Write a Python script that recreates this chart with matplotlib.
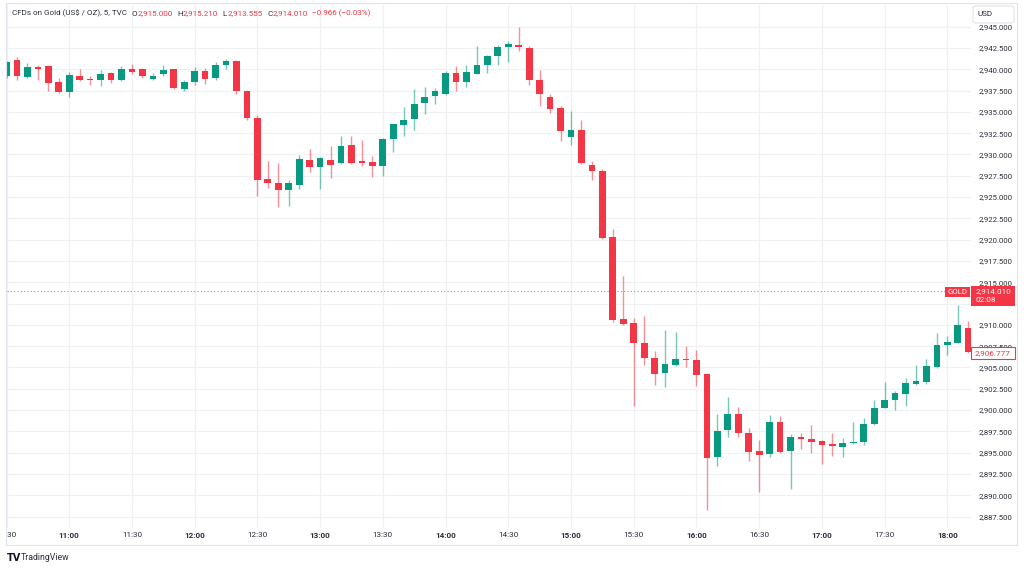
import matplotlib.pyplot as plt
import matplotlib.patches as mpatches
import numpy as np

plt.rcParams['font.family'] = ['Roboto', 'DejaVu Sans']

W, H = 1024, 569

# 5 minute candles, 10:30 -> 18:10
times = ['10:30', '10:35', '10:40', '10:45', '10:50', '10:55',
         '11:00', '11:05', '11:10', '11:15', '11:20', '11:25',
         '11:30', '11:35', '11:40', '11:45', '11:50', '11:55',
         '12:00', '12:05', '12:10', '12:15', '12:20', '12:25',
         '12:30', '12:35', '12:40', '12:45', '12:50', '12:55',
         '13:00', '13:05', '13:10', '13:15', '13:20', '13:25',
         '13:30', '13:35', '13:40', '13:45', '13:50', '13:55',
         '14:00', '14:05', '14:10', '14:15', '14:20', '14:25',
         '14:30', '14:35', '14:40', '14:45', '14:50', '14:55',
         '15:00', '15:05', '15:10', '15:15', '15:20', '15:25',
         '15:30', '15:35', '15:40', '15:45', '15:50', '15:55',
         '16:00', '16:05', '16:10', '16:15', '16:20', '16:25',
         '16:30', '16:35', '16:40', '16:45', '16:50', '16:55',
         '17:00', '17:05', '17:10', '17:15', '17:20', '17:25',
         '17:30', '17:35', '17:40', '17:45', '17:50', '17:55',
         '18:00', '18:05', '18:10']

opens = [2939.2, 2941.1, 2939.1, 2940.25, 2940.35, 2938.5,
         2937.35, 2939.25, 2938.9, 2938.7, 2939.6, 2938.7,
         2940.05, 2940.0, 2938.9, 2939.4, 2940.0, 2937.65,
         2938.5, 2939.75, 2939.0, 2940.45, 2941.0, 2937.5,
         2934.3, 2927.1, 2926.6, 2925.85, 2926.45, 2929.35,
         2928.55, 2929.35, 2928.95, 2931.1, 2929.2, 2929.15,
         2928.65, 2931.8, 2933.5, 2934.2, 2936.0, 2936.85,
         2937.05, 2939.6, 2938.55, 2939.5, 2940.45, 2941.55,
         2942.6, 2942.9, 2942.45, 2938.7, 2936.8, 2935.5,
         2932.0, 2932.9, 2928.8, 2928.1, 2920.35, 2910.65,
         2910.25, 2907.9, 2906.15, 2904.3, 2905.35, 2906.0,
         2905.85, 2904.2, 2894.5, 2897.65, 2899.6, 2897.35,
         2895.15, 2894.8, 2898.55, 2895.15, 2896.9, 2896.65,
         2896.4, 2896.05, 2895.7, 2896.1, 2896.2, 2898.35,
         2900.3, 2901.2, 2901.85, 2903.1, 2903.25, 2905.1,
         2907.6, 2907.9, 2909.65]

highs = [2941.0, 2941.4, 2940.75, 2940.45, 2940.45, 2939.0,
         2939.65, 2940.0, 2939.2, 2939.9, 2939.7, 2940.35,
         2940.65, 2940.1, 2939.6, 2940.45, 2940.05, 2938.8,
         2940.3, 2940.1, 2940.85, 2941.25, 2941.1, 2937.6,
         2934.6, 2929.25, 2928.95, 2927.0, 2929.9, 2930.6,
         2929.65, 2931.0, 2932.15, 2932.15, 2931.7, 2929.85,
         2931.9, 2933.6, 2935.55, 2937.65, 2937.9, 2937.8,
         2939.75, 2940.35, 2940.55, 2942.7, 2941.7, 2942.85,
         2943.3, 2944.95, 2942.7, 2939.95, 2937.15, 2935.7,
         2935.1, 2934.05, 2929.25, 2928.25, 2921.25, 2915.7,
         2910.8, 2911.1, 2906.9, 2909.45, 2909.15, 2907.5,
         2907.0, 2904.3, 2899.6, 2901.5, 2900.4, 2897.85,
         2896.5, 2899.4, 2899.3, 2897.15, 2897.3, 2898.25,
         2896.5, 2897.3, 2896.7, 2898.65, 2899.1, 2901.2,
         2903.35, 2902.3, 2903.8, 2905.35, 2906.05, 2909.0,
         2908.7, 2912.3, 2910.45]

lows = [2939.0, 2938.7, 2939.0, 2938.7, 2937.45, 2937.2,
        2936.8, 2938.6, 2938.2, 2938.0, 2938.4, 2938.6,
        2939.4, 2939.0, 2938.7, 2939.2, 2937.7, 2937.45,
        2938.2, 2938.3, 2938.8, 2940.0, 2937.15, 2934.0,
        2925.15, 2926.1, 2923.85, 2923.9, 2926.0, 2928.0,
        2925.95, 2927.2, 2928.9, 2928.9, 2928.6, 2927.4,
        2927.5, 2930.25, 2932.15, 2932.85, 2934.8, 2935.9,
        2936.95, 2937.45, 2937.9, 2939.45, 2939.6, 2940.55,
        2940.85, 2942.1, 2938.2, 2935.75, 2934.9, 2931.6,
        2931.1, 2928.9, 2927.05, 2920.1, 2910.35, 2910.0,
        2900.5, 2905.25, 2903.0, 2902.75, 2905.2, 2905.1,
        2902.85, 2888.25, 2893.4, 2896.8, 2896.9, 2894.05,
        2890.35, 2894.5, 2894.95, 2890.75, 2895.45, 2894.95,
        2893.65, 2894.65, 2894.55, 2896.0, 2895.9, 2898.3,
        2900.2, 2900.0, 2900.5, 2903.0, 2903.1, 2904.95,
        2906.45, 2907.85, 2906.7]

closes = [2940.9, 2939.2, 2940.3, 2940.05, 2938.4, 2937.35,
          2939.3, 2938.8, 2938.7, 2939.5, 2938.7, 2940.05,
          2939.7, 2939.2, 2939.25, 2939.9, 2937.85, 2938.55,
          2939.75, 2938.9, 2940.55, 2941.0, 2937.45, 2934.25,
          2927.05, 2926.6, 2925.85, 2926.6, 2929.45, 2928.55,
          2929.55, 2928.8, 2930.95, 2929.0, 2929.05, 2928.65,
          2931.8, 2933.55, 2934.1, 2935.95, 2936.75, 2937.45,
          2939.6, 2938.55, 2939.7, 2940.45, 2941.55, 2942.6,
          2942.95, 2942.6, 2938.7, 2937.05, 2935.35, 2932.75,
          2932.85, 2929.0, 2928.1, 2920.15, 2910.6, 2910.15,
          2907.9, 2906.15, 2904.2, 2905.4, 2906.05, 2905.85,
          2904.1, 2894.35, 2897.6, 2899.6, 2897.3, 2895.05,
          2894.75, 2898.55, 2895.05, 2896.8, 2896.6, 2896.25,
          2895.85, 2895.8, 2896.15, 2896.3, 2898.35, 2900.2,
          2901.2, 2901.95, 2903.15, 2903.4, 2905.2, 2907.6,
          2908.0, 2909.95, 2906.78]

time_ticks = ['10:30', '11:00', '11:30', '12:00', '12:30', '13:00', '13:30', '14:00',
              '14:30', '15:00', '15:30', '16:00', '16:30', '17:00', '17:30', '18:00']
price_ticks = [2887.5, 2890.0, 2892.5, 2895.0, 2897.5, 2900.0, 2902.5, 2905.0,
               2907.5, 2910.0, 2912.5, 2915.0, 2917.5, 2920.0, 2922.5, 2925.0,
               2927.5, 2930.0, 2932.5, 2935.0, 2937.5, 2940.0, 2942.5, 2945.0]

gold_price = 2914.010
last_price = 2906.777
header_parts = [('CFDs on Gold (US$ / OZ), 5, TVC', 'dark'), ('O', 'dark'), ('2,915.000', 'red'),
                ('H', 'dark'), ('2,915.210', 'red'), ('L', 'dark'), ('2,913.555', 'red'),
                ('C', 'dark'), ('2,914.010', 'red'), ('\u22120.966 (\u22120.03%)', 'red')]

GREEN = '#089981'
RED = '#f23645'
DARK = '#131722'
TEXT = '#2a2e39'
GRID = '#eff1f4'


def fx(x):
    return x / W


def fy(y):
    return 1 - y / H


fig = plt.figure(figsize=(W / 100, H / 100), dpi=100)
renderer = fig.canvas.get_renderer()


def fit_size(s, width_px, weight='normal'):
    # font size that makes string s about width_px wide
    t = fig.text(0, 0, s, fontsize=10, fontweight=weight)
    w = t.get_window_extent(renderer).width
    t.remove()
    return 10 * width_px / w


num_size = fit_size('2,915.000', 35.5)
hdr_size = fit_size(header_parts[0][0], 115)

# plot area in pixels
left, right, top, bottom = 6.5, 970.5, 5, 528
ax = fig.add_axes([fx(left), fy(bottom), (right - left) / W, (bottom - top) / H])

x0, step = 5.0, 10.47          # pixel of first candle and candle spacing
ppu, y2945 = 8.52, 26.7        # pixels per USD, pixel row of 2945
ax.set_xlim((left - x0) / step, (right - x0) / step)
ax.set_ylim(2945 - (bottom - y2945) / ppu, 2945 + (y2945 - top) / ppu)

idx = np.arange(len(times))
o = np.array(opens)
c = np.array(closes)
cols = [GREEN if cc >= oo else RED for oo, cc in zip(o, c)]

ax.vlines(idx, lows, highs, colors=cols, lw=1.0, alpha=0.55, zorder=2)
body_low = np.minimum(o, c)
body_h = np.maximum(np.abs(c - o), 0.14)
ax.bar(idx, body_h, bottom=body_low, width=0.64, color=cols, lw=0, zorder=3)

# dotted line for the GOLD price
ax.axhline(gold_price, color=RED, lw=0.8, ls=(0, (1, 2)), alpha=0.7, zorder=1)

for s in ax.spines.values():
    s.set_visible(False)
ax.grid(True, color=GRID, lw=0.9, zorder=0)
ax.set_axisbelow(True)

tick_pos = [times.index(t) for t in time_ticks]
ax.set_xticks(tick_pos)
ax.set_xticklabels(time_ticks)
for lab, t in zip(ax.get_xticklabels(), time_ticks):
    lab.set_fontweight('bold' if t.endswith(':00') else 'normal')
ax.tick_params(axis='x', length=0, pad=3, labelsize=num_size, labelcolor=TEXT)

# the 2,912.500 label sits under the GOLD price label
ax.yaxis.tick_right()
ax.set_yticks(price_ticks)
ax.set_yticklabels(['' if v == 2912.5 else f'{v:,.3f}' for v in price_ticks])
ax.tick_params(axis='y', length=0, pad=5.5, labelsize=num_size * 0.96, labelcolor=TEXT)

# hide the part of the first time label that falls outside the frame
fig.patches.append(mpatches.Rectangle((0, fy(546)), fx(6), 20 / H,
                                      transform=fig.transFigure, fc='white', ec='none', zorder=4))
# outer frame
fig.patches.append(mpatches.Rectangle((fx(6), fy(545)), (1017 - 6) / W, (545 - 3) / H,
                                      transform=fig.transFigure, fill=False,
                                      ec='#e0e3eb', lw=0.8, zorder=4))

# header
hx = 12
for i, (s, kind) in enumerate(header_parts):
    t = fig.text(fx(hx), fy(13.5), s, fontsize=hdr_size, va='center', ha='left',
                 color=RED if kind == 'red' else TEXT)
    gap = 0.3 if kind == 'dark' and i > 0 else 4.5
    hx += t.get_window_extent(renderer).width + gap

# USD box
fig.patches.append(mpatches.FancyBboxPatch((fx(973), fy(23)), 41 / W, 17 / H,
                                           boxstyle='round,pad=0,rounding_size=0.003',
                                           transform=fig.transFigure, fc='white',
                                           ec='#e0e3eb', lw=0.8, zorder=5))
fig.text(fx(978), fy(14.5), 'USD', fontsize=num_size, va='center', ha='left',
         color=TEXT, zorder=6)

# GOLD labels
fig.patches.append(mpatches.Rectangle((fx(945), fy(297)), 25 / W, 10 / H,
                                      transform=fig.transFigure, fc=RED, ec='none', zorder=5))
fig.text(fx(957.5), fy(292), 'GOLD', fontsize=num_size * 0.95, color='white', ha='center',
         va='center', zorder=6)
fig.patches.append(mpatches.Rectangle((fx(971), fy(306)), 44 / W, 20 / H,
                                      transform=fig.transFigure, fc=RED, ec='none', zorder=5))
fig.text(fx(993), fy(291.5), f'{gold_price:,.3f}', fontsize=num_size, color='white',
         ha='center', va='center', zorder=6)
fig.text(fx(976), fy(300.5), '02:08', fontsize=num_size, color='white',
         ha='left', va='center', zorder=6)

# last price label
fig.patches.append(mpatches.Rectangle((fx(971), fy(359)), 44 / W, 12 / H,
                                      transform=fig.transFigure, fc='white', ec=RED,
                                      lw=0.8, zorder=5))
fig.text(fx(993), fy(353), f'{last_price:,.3f}', fontsize=num_size, color=RED,
         ha='center', va='center', zorder=6)

# TradingView mark
fig.text(fx(7), fy(558), 'TV', fontsize=7, fontweight='heavy', color=DARK,
         ha='left', va='center', family='DejaVu Sans')
fig.text(fx(21), fy(558), 'TradingView', fontsize=6.3, color=TEXT,
         ha='left', va='center')

fig.savefig('out.png', dpi=100)
